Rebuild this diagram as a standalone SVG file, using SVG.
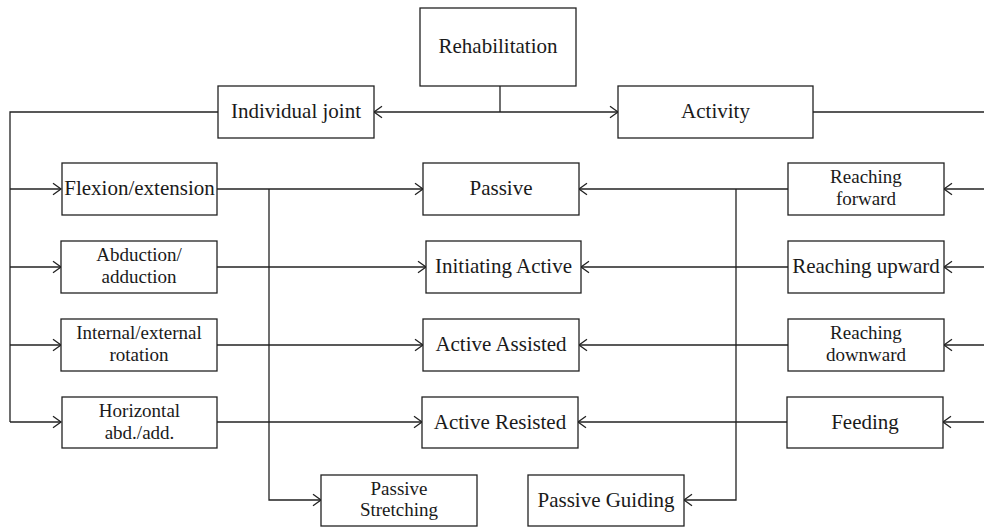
<svg xmlns="http://www.w3.org/2000/svg" width="984" height="529" viewBox="0 0 984 529">
<defs>
<style>
.box{fill:#fff;stroke:#222;stroke-width:1.3}
.t{font-family:"Liberation Serif","Times New Roman",serif;font-size:21px;fill:#1a1a1a;text-anchor:middle}
.t2{font-size:19px}
.c{fill:none;stroke:#222;stroke-width:1.3}
.a{marker-end:url(#arr)}
</style>
<marker id="arr" markerUnits="userSpaceOnUse" markerWidth="12" markerHeight="14" viewBox="-10 -7 12 14" refX="0" refY="0" orient="auto">
<path d="M-8,-5.7 L0,0 L-8,5.7" fill="none" stroke="#222" stroke-width="1.3"/>
</marker>
</defs>
<rect width="984" height="529" fill="#fff"/>
<g id="connectors">
<path class="c" d="M500 86 V112"/>
<path class="c a" d="M500 112 H374"/>
<path class="c a" d="M500 112 H618"/>
<path class="c" d="M218 112 H10 V422"/>
<path class="c a" d="M10 189 H61"/>
<path class="c a" d="M10 267 H61"/>
<path class="c a" d="M10 345 H61"/>
<path class="c a" d="M10 422 H61"/>
<path class="c" d="M813 112 H988 V422"/>
<path class="c a" d="M988 189 H944"/>
<path class="c a" d="M988 267 H944"/>
<path class="c a" d="M988 345 H944"/>
<path class="c a" d="M988 422 H943"/>
<path class="c a" d="M217 189 H423"/>
<path class="c a" d="M217 267 H426"/>
<path class="c a" d="M217 345 H423"/>
<path class="c a" d="M217 422 H422"/>
<path class="c a" d="M269 189 V500 H321"/>
<path class="c a" d="M788 189 H579"/>
<path class="c a" d="M788 267 H581"/>
<path class="c a" d="M788 345 H579"/>
<path class="c a" d="M787 422 H578"/>
<path class="c a" d="M736 189 V500 H684"/>
</g>
<g id="rehabilitation"><rect class="box" x="420" y="8" width="156" height="78"/><text class="t" x="498" y="53">Rehabilitation</text></g>
<g id="individual-joint"><rect class="box" x="218" y="86" width="156" height="52"/><text class="t" x="296" y="118">Individual joint</text></g>
<g id="activity"><rect class="box" x="618" y="86" width="195" height="52"/><text class="t" x="715.5" y="118">Activity</text></g>
<g id="flexion"><rect class="box" x="62" y="163" width="155" height="52"/><text class="t" x="139.5" y="195">Flexion/extension</text></g>
<g id="abduction"><rect class="box" x="61" y="241" width="156" height="52"/><text class="t t2" x="139" y="260.5">Abduction/</text><text class="t t2" x="139" y="282.5">adduction</text></g>
<g id="internal"><rect class="box" x="61" y="319" width="156" height="52"/><text class="t t2" x="139" y="338.5">Internal/external</text><text class="t t2" x="139" y="360.5">rotation</text></g>
<g id="horizontal"><rect class="box" x="62" y="397" width="155" height="51"/><text class="t t2" x="139.5" y="417">Horizontal</text><text class="t t2" x="139.5" y="439">abd./add.</text></g>
<g id="passive"><rect class="box" x="423" y="163" width="156" height="52"/><text class="t" x="501" y="195">Passive</text></g>
<g id="initiating-active"><rect class="box" x="426" y="241" width="155" height="52"/><text class="t" x="503.5" y="273">Initiating Active</text></g>
<g id="active-assisted"><rect class="box" x="423" y="319" width="156" height="52"/><text class="t" x="501" y="351">Active Assisted</text></g>
<g id="active-resisted"><rect class="box" x="422" y="397" width="156" height="51"/><text class="t" x="500" y="428.5">Active Resisted</text></g>
<g id="reaching-forward"><rect class="box" x="788" y="163" width="156" height="52"/><text class="t t2" x="866" y="182.5">Reaching</text><text class="t t2" x="866" y="204.5">forward</text></g>
<g id="reaching-upward"><rect class="box" x="788" y="241" width="156" height="52"/><text class="t" x="866" y="273">Reaching upward</text></g>
<g id="reaching-downward"><rect class="box" x="788" y="319" width="156" height="52"/><text class="t t2" x="866" y="338.5">Reaching</text><text class="t t2" x="866" y="360.5">downward</text></g>
<g id="feeding"><rect class="box" x="787" y="397" width="156" height="51"/><text class="t" x="865" y="428.5">Feeding</text></g>
<g id="passive-stretching"><rect class="box" x="321" y="475" width="156" height="51"/><text class="t t2" x="399" y="494.5">Passive</text><text class="t t2" x="399" y="516">Stretching</text></g>
<g id="passive-guiding"><rect class="box" x="528" y="475" width="156" height="51"/><text class="t" x="606" y="506.5">Passive Guiding</text></g>
</svg>
